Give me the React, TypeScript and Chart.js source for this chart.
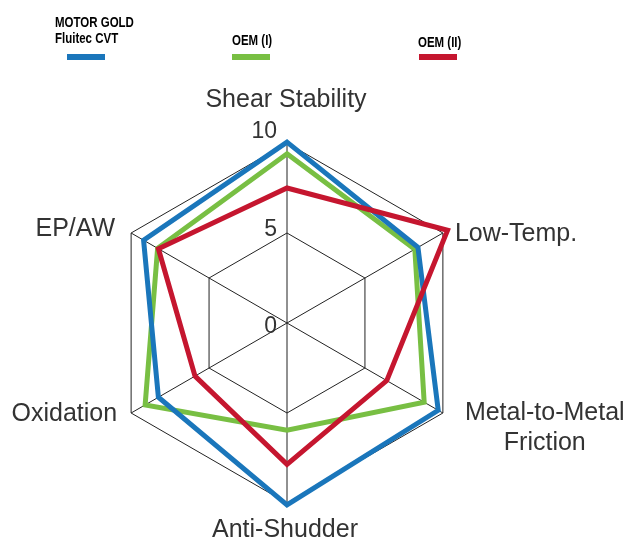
import React, { useEffect, useRef } from "react";
import { Chart, registerables } from "chart.js";

Chart.register(...registerables);

const categories: (string | string[])[] = [
  "Shear Stability",
  "Low-Temp.",
  ["Metal-to-Metal", "Friction"],
  "Anti-Shudder",
  "Oxidation",
  "EP/AW",
];

const motorGold = [10.05, 8.4, 9.7, 10.1, 8.25, 9.2];
const oem1 = [9.4, 8.2, 8.8, 5.95, 9.1, 8.3];
const oem2 = [7.5, 10.3, 6.4, 7.85, 5.9, 8.25];

const tickValues = [0, 5, 10];

const seriesNames = [["MOTOR GOLD", "Fluitec CVT"], ["OEM (I)"], ["OEM (II)"]];
const seriesColors = ["#1a76bb", "#78bf43", "#c5162f"];

const labelPlugin = {
  id: "customLabels",
  afterDraw(chart: any) {
    const ctx = chart.ctx as CanvasRenderingContext2D;
    const scale = chart.scales.r;
    const R = scale.drawingArea;
    ctx.save();

    // tick labels
    ctx.fillStyle = "#333";
    ctx.font = "23px 'Liberation Sans', Arial, sans-serif";
    ctx.textAlign = "right";
    ctx.textBaseline = "alphabetic";
    tickValues.forEach((v) => {
      const d = scale.getDistanceFromCenterForValue(v);
      ctx.fillText(String(v), scale.xCenter - 10, scale.yCenter + 10 - d * 1.083);
    });

    // point labels
    ctx.font = "25px 'Liberation Sans', Arial, sans-serif";
    ctx.fillStyle = "#333";
    const p = (i: number, extra = 0) => scale.getPointPosition(i, R + extra);
    let pt = p(0, 36);
    ctx.textAlign = "center";
    ctx.fillText(categories[0] as string, pt.x - 1, pt.y);
    pt = p(1);
    ctx.textAlign = "left";
    ctx.fillText(categories[1] as string, pt.x + 12, pt.y + 8);
    pt = p(2);
    const lines = categories[2] as string[];
    const w1 = ctx.measureText(lines[0]).width;
    ctx.textAlign = "center";
    ctx.fillText(lines[0], pt.x + 22 + w1 / 2, pt.y + 7);
    ctx.fillText(lines[1], pt.x + 22 + w1 / 2, pt.y + 37);
    pt = p(3);
    ctx.textAlign = "center";
    ctx.fillText(categories[3] as string, pt.x - 2, pt.y + 34);
    pt = p(4);
    ctx.textAlign = "right";
    ctx.fillText(categories[4] as string, pt.x - 14, pt.y + 8);
    pt = p(5);
    ctx.textAlign = "right";
    ctx.fillText(categories[5] as string, pt.x - 16, pt.y + 3);

    // legend
    ctx.font = "bold 14px 'Liberation Sans', Arial, sans-serif";
    ctx.textAlign = "left";
    const legendX = [55, 232, 418];
    const swatchX = [67, 232, 419];
    const lastBaseline = [43, 45, 47];
    const squeeze = 0.82;
    seriesNames.forEach((names, i) => {
      ctx.fillStyle = "#000";
      names.forEach((n, j) => {
        const y = lastBaseline[i] - (names.length - 1 - j) * 16;
        ctx.save();
        ctx.translate(legendX[i], y);
        ctx.scale(squeeze, 1);
        ctx.fillText(n, 0, 0);
        ctx.restore();
      });
      ctx.fillStyle = seriesColors[i];
      ctx.fillRect(swatchX[i], 54, 38, 6);
    });

    ctx.restore();
  },
};

export default function App() {
  const ref = useRef<HTMLCanvasElement>(null);
  useEffect(() => {
    if (!ref.current) return;
    const chart = new Chart(ref.current, {
      type: "radar",
      data: {
        labels: categories,
        datasets: [
          {
            label: "MOTOR GOLD Fluitec CVT",
            data: motorGold,
            borderColor: seriesColors[0],
            order: 1,
          },
          {
            label: "OEM (I)",
            data: oem1,
            borderColor: seriesColors[1],
            order: 2,
          },
          {
            label: "OEM (II)",
            data: oem2,
            borderColor: seriesColors[2],
            order: 0,
          },
        ].map((d) => ({
          ...d,
          fill: false,
          borderWidth: 5,
          borderJoinStyle: "miter" as const,
          pointRadius: 0,
          pointHoverRadius: 0,
          tension: 0,
        })),
      },
      options: {
        responsive: false,
        maintainAspectRatio: false,
        animation: false,
        devicePixelRatio: 1,
        layout: { padding: { left: 107, right: 172, top: 143, bottom: 40 } },
        plugins: { legend: { display: false }, tooltip: { enabled: false } },
        scales: {
          r: {
            min: 0,
            max: 10,
            ticks: { display: false, stepSize: 5 },
            pointLabels: { display: false },
            grid: { color: "#222", lineWidth: 1 },
            angleLines: { color: "#222", lineWidth: 1 },
          },
        },
      },
      plugins: [labelPlugin],
    });
    return () => chart.destroy();
  }, []);
  return (
    <div style={{ position: "absolute", left: 0, top: 0, width: 639, height: 543, background: "#fff" }}>
      <canvas ref={ref} width={639} height={543} style={{ width: 639, height: 543 }} />
    </div>
  );
}
